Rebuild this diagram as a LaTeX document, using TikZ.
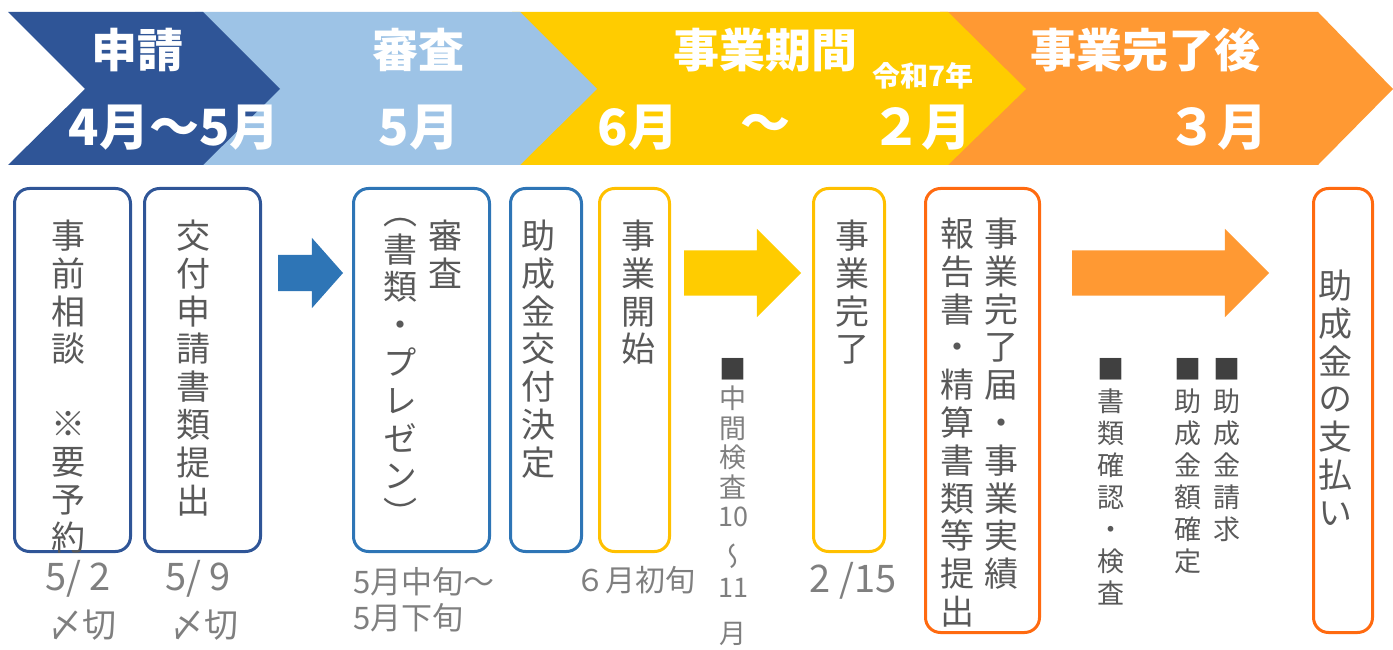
\documentclass[tikz,border=0pt]{standalone}
\usepackage{fontspec}
\setmainfont{Noto Sans CJK JP}
\newfontfamily\tatefont[RawFeature=+vert]{Noto Sans CJK JP}
\usepackage{tikz}
\usetikzlibrary{shapes.arrows}
\pgfdeclarelayer{bg}
\pgfsetlayers{bg,main}

\definecolor{dkblue}{HTML}{2F5597}
\definecolor{ltblue}{HTML}{9DC3E6}
\definecolor{bandyellow}{HTML}{FFCC00}
\definecolor{bandorange}{HTML}{FF9933}
\definecolor{midblue}{HTML}{2E75B6}
\definecolor{boxyellow}{HTML}{FFC000}
\definecolor{boxorange}{HTML}{FF6A10}
\definecolor{txtgray}{HTML}{595959}
\definecolor{dategray}{HTML}{7F7F7F}
\definecolor{sqgray}{HTML}{404040}

\tikzset{
    every node/.style={inner sep=0pt, outer sep=0pt}
}
\tikzset{
    title/.style={text=white, font=\bfseries\fontsize{46}{50}\selectfont},
    month/.style={text=white, font=\bfseries\fontsize{50}{54}\selectfont},
    box/.style={rectangle, draw, rounded corners=15pt, line width=3pt,
        minimum height=363pt},
    tallbox/.style={box, minimum height=444pt},
    tate/.style={anchor=north, align=center, text=txtgray,
        font=\tatefont\fontsize{34}{37.8}\selectfont},
    memo/.style={anchor=north, align=center, text=txtgray,
        font=\tatefont\fontsize{27}{32}\selectfont},
    date/.style={text=dategray, font=\fontsize{38}{42}\selectfont},
    shime/.style={text=dategray, font=\fontsize{34}{38}\selectfont},
    blockarrow/.style={single arrow, draw=none, anchor=tail, inner xsep=0pt,
        inner ysep=22.5pt, single arrow head extend=21.5pt, single arrow tip angle=90}
}

\begin{document}
\begin{tikzpicture}[x=1pt, y=-1pt]
    \useasboundingbox (0,0) rectangle (1393,650);

    \begin{pgfonlayer}{bg}
        \fill[bandorange] (940,12) -- (1318,12) -- (1393,89) -- (1318,165) -- (940,165) -- cycle;
        \fill[bandyellow] (512,12) -- (948,12) -- (1026,89) -- (948,165) -- (512,165) -- cycle;
        \fill[ltblue] (195,12) -- (520,12) -- (597,89) -- (520,165) -- (195,165) -- cycle;
        \fill[dkblue] (8,12) -- (203,12) -- (280,89) -- (203,165) -- (8,165) -- (85,89) -- cycle;
    \end{pgfonlayer}

    % band texts
    \node (tShinsei) at (137, 50) [title] {申請};
    \node (tShinsa) at (418, 50) [title] {審査};
    \node (tKikan) at (765, 50) [title] {事業期間};
    \node (tGo) at (1145, 50) [title] {事業完了後};
    \node (tReiwa) at (923, 76) [text=white, font=\bfseries\fontsize{28}{30}\selectfont] {令和7年};

    \node (mShinsei) at (174, 128) [month] {4月〜5月};
    \node (mShinsa) at (419, 128) [month] {5月};
    \node (mStart) at (638, 128) [month] {6月};
    \node (mWave) at (765, 128) [month] {〜};
    \node (mEnd) at (921, 128) [month] {２月};
    \node (mGo) at (1217, 128) [month] {３月};

    % boxes
    \node (soudan) at (72.5, 370) [box, draw=dkblue, minimum width=116pt] {};
    \node (teishutsu) at (202.5, 370) [box, draw=dkblue, minimum width=116pt] {};
    \node (shinsa) at (421.5, 370) [box, draw=midblue, minimum width=136pt] {};
    \node (kettei) at (546, 370) [box, draw=midblue, minimum width=71pt] {};
    \node (kaishi) at (634.5, 370) [box, draw=boxyellow, minimum width=70pt] {};
    \node (kanryo) at (849, 370) [box, draw=boxyellow, minimum width=71pt] {};
    \node (houkoku) at (982.5, 410.5) [tallbox, draw=boxorange, minimum width=114pt] {};
    \node (shiharai) at (1343, 410.5) [tallbox, draw=boxorange, minimum width=59pt] {};

    \node (soudanT) at (68, 220) [tate] {事\\前\\相\\談\\[37pt]※\\要\\予\\約};
    \node (teishutsuT) at (193, 220) [tate] {交\\付\\申\\請\\書\\類\\提\\出};
    \node (shinsaT) at (445, 220) [tate] {審\\査};
    \node (shoruiT) at (400, 218) [tate] {︵\\書\\類\\・\\プ\\レ\\ゼ\\ン\\︶};
    \node (ketteiT) at (538, 220) [tate] {助\\成\\金\\交\\付\\決\\定};
    \node (kaishiT) at (638, 220) [tate] {事\\業\\開\\始};
    \node (kanryoT) at (852, 220) [tate] {事\\業\\完\\了};
    \node (todokeT) at (1001, 218) [tate] {事\\業\\完\\了\\届\\・\\事\\業\\実\\績};
    \node (houkokuT) at (957, 218) [tate] {報\\告\\書\\・\\精\\算\\書\\類\\等\\提\\出};
    \node (shiharaiT) at (1335, 270) [tate] {助\\成\\金\\の\\支\\払\\い};

    % block arrows
    \node (arrBlue) at (278, 273) [blockarrow, fill=midblue, minimum height=65pt,
        inner ysep=18pt, single arrow head extend=17pt, single arrow tip angle=97] {};
    \node (arrYellow) at (684, 273) [blockarrow, fill=bandyellow, minimum height=117pt] {};
    \node (arrOrange) at (1072, 273) [blockarrow, fill=bandorange, minimum height=197pt] {};

    % notes
    \node (chukan) at (733, 358) [memo, text=dategray, font=\tatefont\fontsize{27}{29.5}\selectfont]
        {\textcolor{sqgray}{■}\\中\\間\\検\\査\\10\\[10pt]〜\\[2pt]11\\[16pt]月};
    \node (kakunin) at (1111, 358) [memo] {\textcolor{sqgray}{■}\\書\\類\\確\\認\\・\\検\\査};
    \node (gakuT) at (1188, 358) [memo] {\textcolor{sqgray}{■}\\助\\成\\金\\額\\確\\定};
    \node (seikyu) at (1227, 358) [memo] {\textcolor{sqgray}{■}\\助\\成\\金\\請\\求};

    % dates
    \node (dSoudan) at (78, 579) [date] {5/ 2};
    \node (sSoudan) at (82, 625) [shime] {〆切};
    \node (dTeishutsu) at (198, 579) [date] {5/ 9};
    \node (sTeishutsu) at (204, 625) [shime] {〆切};
    \node (dShinsa) at (353, 567) [anchor=north west, align=left, text=dategray,
        font=\fontsize{31}{36}\selectfont] {5月中旬〜\\5月下旬};
    \node (dKaishi) at (635, 580) [text=dategray, font=\fontsize{30}{34}\selectfont] {６月初旬};
    \node (dKanryo) at (853, 581) [date] {2 /15};
\end{tikzpicture}
\end{document}
